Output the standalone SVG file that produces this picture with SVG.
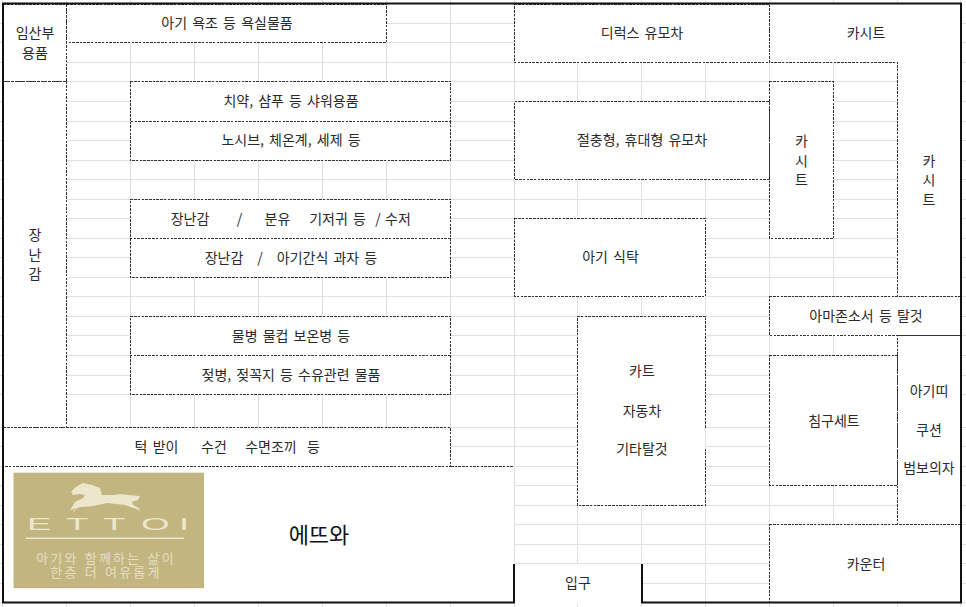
<svg xmlns="http://www.w3.org/2000/svg" width="966" height="607" viewBox="0 0 966 607">
<style>
text{font-family:"Noto Sans CJK KR","Noto Sans",sans-serif;font-size:14px;word-spacing:2px;fill:#2a2a2a;text-anchor:middle}
.g{stroke:#e0e0e0;stroke-width:1;fill:none;shape-rendering:crispEdges}
.b{fill:#fff;stroke:#333;stroke-width:1;stroke-dasharray:2.5 1.2;shape-rendering:crispEdges}
.w{fill:#fff;stroke:none}
.d{fill:none;stroke:#333;stroke-width:1;stroke-dasharray:2.5 1.2;shape-rendering:crispEdges}
.k{fill:none;stroke:#111;stroke-width:2}
.l{fill:#ece6cd}
text.m{font-size:13px;letter-spacing:2.200px;word-spacing:1px;fill:#e6dfc4}
</style>
<g id="grid" class="g">
<path d="M2.500 0V607M66.500 0V607M130.500 0V607M194.500 0V607M258.500 0V607M322.500 0V607M386.500 0V607M450.500 0V607M514.500 0V607M577.500 0V607M641.500 0V607M705.500 0V607M769.500 0V607M833.500 0V607M897.500 0V607M960.500 0V607"/>
<path d="M0 23.500H966M0 42.500H966M0 62.500H966M0 81.500H966M0 101.500H966M0 121.500H966M0 140.500H966M0 160.500H966M0 179.500H966M0 199.500H966M0 218.500H966M0 238.500H966M0 257.500H966M0 277.500H966M0 296.500H966M0 316.500H966M0 335.500H966M0 355.500H966M0 375.500H966M0 394.500H966M0 427.500H966M0 446.500H966M0 466.500H966M0 485.500H966M0 505.500H966M0 524.500H966M0 544.500H966M0 563.500H966M0 583.500H966M0 602.500H966"/>
</g>
<g id="node-imsanbu"><rect class="b" x="3.500" y="4.500" width="63" height="77"/><text x="35" y="37.500">임산부</text><text x="35" y="57.500">용품</text></g>
<g id="node-toys"><rect class="b" x="3.500" y="81.500" width="63" height="346"/><text x="35" y="240">장</text><text x="35" y="260">난</text><text x="35" y="279">감</text></g>
<g id="node-bath"><rect class="b" x="66.500" y="4.500" width="320" height="38"/><text x="227" y="28">아기 욕조 등 욕실물품</text></g>
<g id="node-shower"><rect class="b" x="130.500" y="81.500" width="320" height="40"/><text x="291" y="106">치약, 샴푸 등 샤워용품</text></g>
<g id="node-nosib"><rect class="w" x="131" y="122" width="319" height="38"/><path class="d" d="M130.500 121.500V160.500H450.500V121.500"/><text x="291" y="145">노시브, 체온계, 세제 등</text></g>
<g id="node-toy-milk"><rect class="b" x="130.500" y="199.500" width="320" height="39"/><text x="190" y="223.500">장난감</text><text x="239.500" y="223.500">/</text><text x="277.500" y="223.500">분유</text><text x="337.500" y="223.500">기저귀 등</text><text x="378" y="223.500">/</text><text x="398" y="223.500">수저</text></g>
<g id="node-toy-snack"><rect class="w" x="131" y="239" width="319" height="38"/><path class="d" d="M130.500 238.500V277.500H450.500V238.500"/><text x="224" y="262.500">장난감</text><text x="260" y="262.500">/</text><text x="327" y="262.500">아기간식 과자 등</text></g>
<g id="node-bottle"><rect class="b" x="130.500" y="316.500" width="320" height="39"/><text x="291" y="340.500">물병 물컵 보온병 등</text></g>
<g id="node-feeding"><rect class="w" x="131" y="356" width="319" height="38"/><path class="d" d="M130.500 355.500V394.500H450.500V355.500"/><text x="291" y="379.500">젖병, 젖꼭지 등 수유관련 물품</text></g>
<g id="node-towel"><rect class="b" x="3.500" y="427.500" width="447" height="39"/><text x="156.500" y="451.500">턱 받이</text><text x="214" y="451.500">수건</text><text x="271" y="451.500">수면조끼</text><text x="313.500" y="451.500">등</text></g>
<g id="node-ettoi">
<rect class="w" x="3" y="467" width="511" height="136"/>
<path class="d" d="M451 466.500H514"/>
<rect x="13.500" y="472.700" width="190.500" height="115.500" fill="#c2b57f"/>
<path class="l" d="M71 491.700L76 487L83 483L92 485L100 488L102 495L113 495C120 494 124 494 128 495L140 496L138 500L132 501.700L133 505L141 509L133 508L125 505L107 503L93 506L80 507L70 510L75 502L83 498L85 495L80 494L73 495Z"/>
<path d="M74 511.500C77 506 82 505 90 506M131 505L140 511" fill="none" stroke="#ece6cd" stroke-width="1"/>
<text transform="scale(2.3 1)" x="11.700 28.700 44.800 61.300 77.800" y="530" style="font-family:'Liberation Sans',sans-serif;font-size:16px;fill:#ece6cd;text-anchor:start">ETTOI</text>
<rect class="l" x="26" y="537.500" width="158" height="1.500"/>
<text class="m" y="562.500"><tspan x="106">아기와 함께하는 삶이</tspan><tspan x="106" dy="14">한층 더 여유롭게</tspan></text>
<text x="319" y="543" style="font-size:22px;word-spacing:0;fill:#111">에뜨와</text>
</g>
<g id="node-deluxe"><rect class="b" x="514.500" y="4.500" width="255" height="58"/><text x="642" y="37.500">디럭스 유모차</text></g>
<g id="node-compact"><rect class="b" x="514.500" y="101.500" width="255" height="78"/><text x="642" y="145">절충형, 휴대형 유모차</text></g>
<g id="node-chair"><rect class="b" x="514.500" y="218.500" width="191" height="78"/><text x="610.500" y="262">아기 식탁</text></g>
<g id="node-cart"><rect class="w" x="578" y="317" width="127" height="188"/><path class="d" d="M705.500 427.500V316.500H577.500V505.500H705.500V446.500"/><text x="642" y="376">카트</text><text x="642" y="416">자동차</text><text x="642" y="454">기타탈것</text></g>
<g id="node-carseat-top"><path class="w" d="M770 4H961V296H898V62H770Z"/><path class="d" d="M769.500 4.500V62.500H897.500V296.500"/><text x="866" y="37.500">카시트</text><text x="929" y="165.500">카</text><text x="929" y="185">시</text><text x="929" y="204.500">트</text></g>
<g id="node-carseat-mid"><rect class="b" x="769.500" y="81.500" width="64" height="157"/><text x="801.500" y="146">카</text><text x="801.500" y="165.500">시</text><text x="801.500" y="185">트</text></g>
<g id="node-amazon"><rect class="b" x="769.500" y="296.500" width="191" height="39"/><text x="866" y="321">아마존소서 등 탈것</text></g>
<g id="node-bedding"><rect class="b" x="769.500" y="355.500" width="128" height="130"/><text x="834" y="426">침구세트</text></g>
<g id="node-carrier"><rect class="b" x="897.500" y="335.500" width="63" height="189"/><text x="929" y="396">아기띠</text><text x="929" y="435">쿠션</text><text x="929" y="473">범보의자</text></g>
<g id="node-counter"><rect class="b" x="769.500" y="524.500" width="191" height="78"/><text x="866" y="568.500">카운터</text></g>
<g id="node-entrance"><rect class="w" x="514" y="564" width="128" height="39"/><text x="578" y="588">입구</text></g>
<g id="connectors"><path class="k" d="M514 564V602.500H3V3.500H961V602.500H642V564"/></g>
</svg>
